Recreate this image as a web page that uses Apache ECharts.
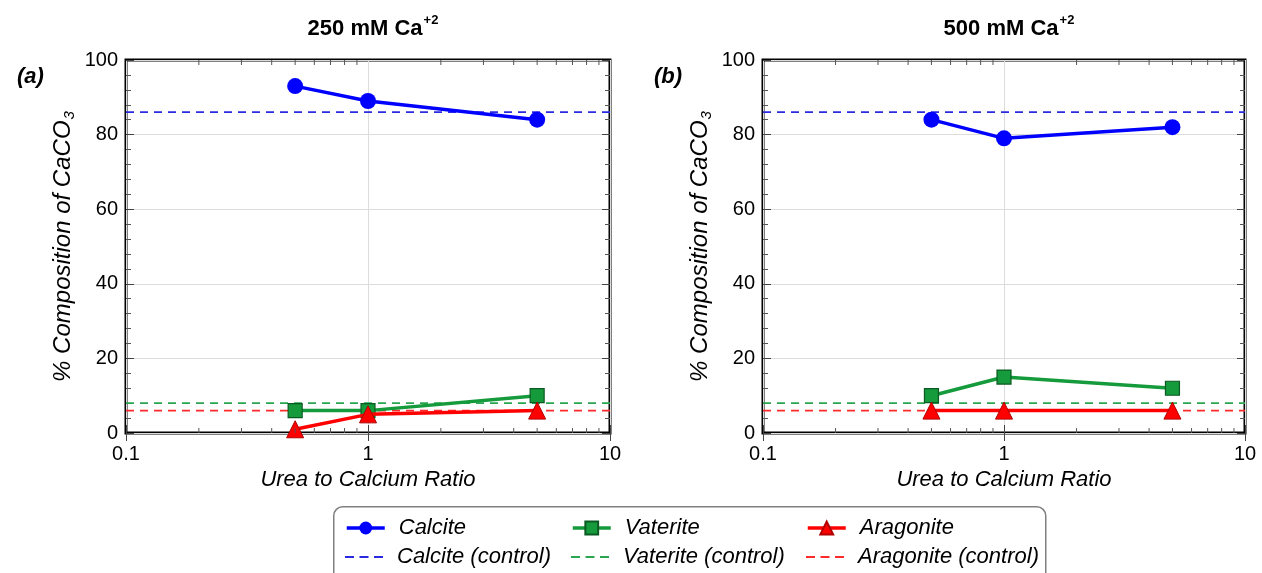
<!DOCTYPE html>
<html><head><meta charset="utf-8">
<script src="https://cdn.jsdelivr.net/npm/echarts@6/dist/echarts.min.js"></script>
<style>html,body{margin:0;padding:0;background:#fff}#c{width:1262px;height:573px}</style>
</head><body><div id="c"></div>
<script>
// ---- data ----
const ratios = [0.5, 1, 5];
const panelTitles = ['250 mM Ca', '500 mM Ca'];
const panelTags = ['(a)', '(b)'];
const calcite = [[93, 89, 84], [84, 79, 82]];
const vaterite = [[6, 6, 10], [10, 15, 12]];
const aragonite = [[1, 5, 6], [6, 6, 6]];
const calciteControl = 86;
const vateriteControl = 8;
const aragoniteControl = 6;
const xExtent = [0.1, 10];
const yExtent = [0, 100];
const xMinorTicks = [0.2, 0.3, 0.4, 0.5, 0.6, 0.7, 0.8, 0.9, 2, 3, 4, 5, 6, 7, 8, 9];
const legendNames = [['Calcite', 'Calcite (control)'], ['Vaterite', 'Vaterite (control)'], ['Aragonite', 'Aragonite (control)']];

// ---- styles ----
const FONT = 'Liberation Sans, Arial, sans-serif';
const C_BLUE = '#0000ff', C_GREEN = '#159a3c', C_RED = '#ff0000';
const D_BLUE = '#2a2ae0', D_GREEN = '#2aa650', D_RED = '#ff2a2a';

const grids = [
  {left: 126, top: 60, width: 484, height: 373},
  {left: 763, top: 60, width: 482, height: 373}
];

const chart = echarts.init(document.getElementById('c'), null, {renderer: 'canvas'});

const xAxes = [], yAxes = [], series = [], titles = [];
grids.forEach((g, i) => {
  const common = {gridIndex: i, type: 'log', logBase: 10, min: xExtent[0], max: xExtent[1]};
  xAxes.push(Object.assign({}, common, {
    position: 'bottom',
    axisLine: {show: false},
    axisTick: {show: true, inside: true, length: 8, lineStyle: {color: '#444', width: 1}},
    axisLabel: {fontFamily: FONT, fontSize: 20, color: '#000', margin: 11},
    splitLine: {show: true, lineStyle: {color: '#dcdcdc', width: 1}},
    name: 'Urea to Calcium Ratio', nameLocation: 'middle', nameGap: 36,
    nameTextStyle: {fontFamily: FONT, fontSize: 22, fontStyle: 'italic', color: '#000'}
  }));
  xAxes.push(Object.assign({}, common, {
    position: 'top',
    axisLine: {show: false},
    axisTick: {show: true, inside: true, length: 8, lineStyle: {color: '#444', width: 1}},
    axisLabel: {show: false}, splitLine: {show: false}
  }));
  const ycommon = {gridIndex: i, type: 'value', min: yExtent[0], max: yExtent[1], interval: 20};
  yAxes.push(Object.assign({}, ycommon, {
    position: 'left',
    axisLine: {show: false},
    axisTick: {show: true, inside: true, length: 8, lineStyle: {color: '#444'}},
    minorTick: {show: true, splitNumber: 5, length: 5, lineStyle: {color: '#555'}},
    axisLabel: {fontFamily: FONT, fontSize: 20, color: '#000', margin: 8},
    splitLine: {show: true, lineStyle: {color: '#dcdcdc', width: 1}},
    name: '{a|% Composition of CaCO}{s|3}', nameLocation: 'middle', nameRotate: 90, nameGap: 49,
    nameTextStyle: {
      fontFamily: FONT, color: '#000',
      rich: {
        a: {fontFamily: FONT, fontSize: 24, fontStyle: 'italic', color: '#000', lineHeight: 27, verticalAlign: 'middle'},
        s: {fontFamily: FONT, fontSize: 15, fontStyle: 'italic', color: '#000', lineHeight: 27, verticalAlign: 'bottom', padding: [10, 0, 0, 1]}
      }
    }
  }));
  yAxes.push(Object.assign({}, ycommon, {
    position: 'right',
    axisLine: {show: false},
    axisTick: {show: true, inside: true, length: 8, lineStyle: {color: '#444'}},
    minorTick: {show: true, splitNumber: 5, length: 5, lineStyle: {color: '#555'}},
    axisLabel: {show: false}, splitLine: {show: false}
  }));

  const xi = i * 2, yi = i * 2;
  const pts = arr => ratios.map((r, k) => [r, arr[k]]);
  const ctrl = v => xExtent.map(x => [x, v]);

  series.push({
    name: 'Calcite (control)', type: 'line', xAxisIndex: xi, yAxisIndex: yi,
    data: ctrl(calciteControl), symbol: 'none', silent: true, z: 2,
    lineStyle: {color: D_BLUE, width: 1.8, type: [8, 6]}, itemStyle: {color: D_BLUE}
  });
  series.push({
    name: 'Vaterite (control)', type: 'line', xAxisIndex: xi, yAxisIndex: yi,
    data: ctrl(vateriteControl), symbol: 'none', silent: true, z: 2,
    lineStyle: {color: D_GREEN, width: 1.8, type: [8, 6]}, itemStyle: {color: D_GREEN}
  });
  series.push({
    name: 'Aragonite (control)', type: 'line', xAxisIndex: xi, yAxisIndex: yi,
    data: ctrl(aragoniteControl), symbol: 'none', silent: true, z: 2,
    lineStyle: {color: D_RED, width: 1.8, type: [8, 6]}, itemStyle: {color: D_RED}
  });
  series.push({
    name: 'Vaterite', type: 'line', xAxisIndex: xi, yAxisIndex: yi,
    data: pts(vaterite[i]), symbol: 'rect', symbolSize: 14, z: 3,
    lineStyle: {color: C_GREEN, width: 3.5},
    itemStyle: {color: C_GREEN, borderColor: '#0b5a22', borderWidth: 1.2}
  });
  series.push({
    name: 'Aragonite', type: 'line', xAxisIndex: xi, yAxisIndex: yi,
    data: pts(aragonite[i]), symbol: 'triangle', symbolSize: 17, z: 4,
    lineStyle: {color: C_RED, width: 3.5},
    itemStyle: {color: C_RED, borderColor: '#b00000', borderWidth: 1}
  });
  series.push({
    name: 'Calcite', type: 'line', xAxisIndex: xi, yAxisIndex: yi,
    data: pts(calcite[i]), symbol: 'circle', symbolSize: 16, z: 4,
    lineStyle: {color: C_BLUE, width: 3.5},
    itemStyle: {color: C_BLUE}
  });
  series.push({
    type: 'custom', xAxisIndex: xi, yAxisIndex: yi, silent: true, clip: false, z: 6,
    data: xMinorTicks.map(v => [v, yExtent[0]]),
    renderItem: (params, api) => {
      const v = api.value(0);
      const b = api.coord([v, yExtent[0]]);
      const t = api.coord([v, yExtent[1]]);
      return {type: 'group', children: [
        {type: 'line', shape: {x1: b[0], y1: b[1], x2: b[0], y2: b[1] - 5}, style: {stroke: '#555', lineWidth: 1}},
        {type: 'line', shape: {x1: t[0], y1: t[1], x2: t[0], y2: t[1] + 5}, style: {stroke: '#555', lineWidth: 1}}
      ]};
    }
  });

  titles.push({
    text: '{t|' + panelTitles[i] + '}{p|+2}',
    left: g.left + g.width / 2, top: 9, textAlign: 'center',
    textStyle: {
      rich: {
        t: {fontFamily: FONT, fontSize: 22, fontWeight: 'bold', color: '#000', lineHeight: 26, verticalAlign: 'bottom'},
        p: {fontFamily: FONT, fontSize: 13, fontWeight: 'bold', color: '#000', lineHeight: 26, verticalAlign: 'top', padding: [0, 0, 0, 1]}
      }
    }
  });
  titles.push({
    text: panelTags[i], left: g.left - 114, top: 61,
    textStyle: {fontFamily: FONT, fontSize: 22, fontWeight: 'bold', fontStyle: 'italic', color: '#000'}
  });
});

const legendLefts = [345, 571, 806];
const legendRowTops = [517, 546];
const dashIcon = 'path://M0,0h9v2h-9z M14.5,0h9v2h-9z M29,0h9v2h-9z';
const legends = [];
legendNames.forEach((pair, c) => {
  pair.forEach((nm, r) => {
    legends.push({
      orient: 'horizontal', left: legendLefts[c], top: legendRowTops[r], padding: 0,
      itemWidth: 38, itemHeight: r === 0 ? 16 : 2, selectedMode: false,
      lineStyle: r === 0 ? {width: 3.5} : undefined,
      data: [r === 0 ? nm : {name: nm, icon: dashIcon}],
      textStyle: {fontFamily: FONT, fontSize: 22, fontStyle: 'italic', color: '#000', lineHeight: 22, padding: [0, 0, 0, 9]}
    });
  });
});

chart.setOption({
  backgroundColor: '#fff',
  animation: false,
  title: titles,
  grid: grids.map(g => Object.assign({show: true, borderColor: '#000', borderWidth: 3, backgroundColor: 'transparent'}, g)),
  xAxis: xAxes,
  yAxis: yAxes,
  legend: legends,
  graphic: [{
    type: 'rect', left: 333, top: 506, z: -1, silent: true,
    shape: {width: 712, height: 90, r: 9},
    style: {fill: '#fff', stroke: '#808080', lineWidth: 1.5}
  }],
  series: series
});
</script>
</body></html>
